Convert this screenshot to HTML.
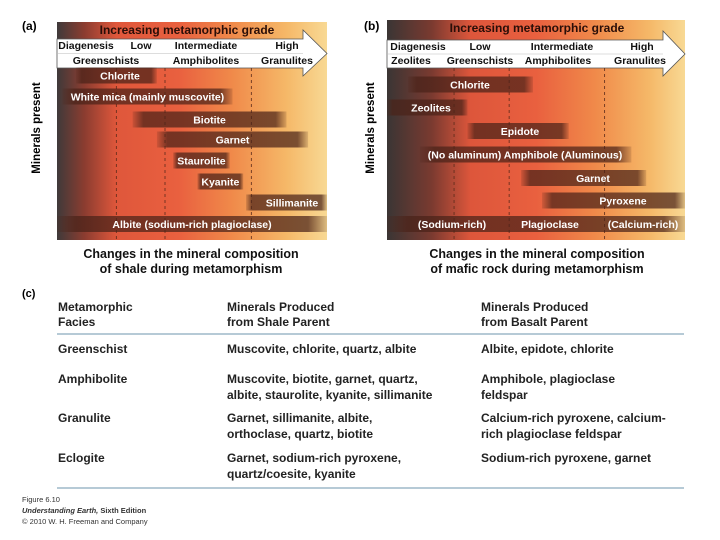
<!DOCTYPE html>
<html><head><meta charset="utf-8"><style>
html,body{margin:0;padding:0;background:#fff;width:720px;height:540px;overflow:hidden}
svg{display:block;font-family:"Liberation Sans",sans-serif}
.b{font-weight:bold}
</style></head><body>
<svg id="fig" width="720" height="540" viewBox="0 0 720 540">
<defs>
<linearGradient id="bgA" x1="0" x2="1" y1="0" y2="0">
<stop offset="0" stop-color="#3f3a3a"/><stop offset="0.1" stop-color="#8a3c30"/><stop offset="0.22" stop-color="#df573b"/><stop offset="0.45" stop-color="#e9603f"/><stop offset="0.65" stop-color="#f08a4a"/><stop offset="0.85" stop-color="#f5b868"/><stop offset="1" stop-color="#f8d994"/>
</linearGradient>
<linearGradient id="bgB" x1="0" x2="1" y1="0" y2="0">
<stop offset="0" stop-color="#3a3534"/><stop offset="0.15" stop-color="#7a3a30"/><stop offset="0.28" stop-color="#dd563b"/><stop offset="0.5" stop-color="#e9603f"/><stop offset="0.7" stop-color="#f08a4a"/><stop offset="0.88" stop-color="#f5b868"/><stop offset="1" stop-color="#f8d994"/>
</linearGradient>
<linearGradient id="barG" x1="0" x2="1" y1="0" y2="0">
<stop offset="0" stop-color="#4a2218" stop-opacity="0.15"/><stop offset="0.07" stop-color="#4a2218" stop-opacity="0.72"/><stop offset="0.93" stop-color="#4a2218" stop-opacity="0.72"/><stop offset="1" stop-color="#4a2218" stop-opacity="0.15"/>
</linearGradient>
</defs>
<g id="panelA"></g>
<g id="panelB"></g>
<text x="22" y="30" class="b" font-size="12">(a)</text>
<text x="364" y="30" class="b" font-size="12">(b)</text>
<text x="40" y="128" class="b" font-size="11.5" text-anchor="middle" transform="rotate(-90 40 128)">Minerals present</text>
<text x="374" y="128" class="b" font-size="11.5" text-anchor="middle" transform="rotate(-90 374 128)">Minerals present</text>
<g class="b" font-size="12.5" text-anchor="middle" fill="#111">
<text x="191" y="258">Changes in the mineral composition</text>
<text x="191" y="273">of shale during metamorphism</text>
<text x="537" y="258">Changes in the mineral composition</text>
<text x="537" y="273">of mafic rock during metamorphism</text>
</g>
<text x="22" y="297" class="b" font-size="11">(c)</text>
<g class="b" font-size="12" fill="#222">
<text x="58" y="311">Metamorphic</text>
<text x="58" y="326">Facies</text>
<text x="227" y="311">Minerals Produced</text>
<text x="227" y="326">from Shale Parent</text>
<text x="481" y="311">Minerals Produced</text>
<text x="481" y="326">from Basalt Parent</text>
<line x1="57" y1="334" x2="684" y2="334" stroke="#9db8c8" stroke-width="1.5"/>
<text x="58" y="353">Greenschist</text>
<text x="227" y="353">Muscovite, chlorite, quartz, albite</text>
<text x="481" y="353">Albite, epidote, chlorite</text>
<text x="58" y="383">Amphibolite</text>
<text x="227" y="383">Muscovite, biotite, garnet, quartz,</text>
<text x="227" y="399">albite, staurolite, kyanite, sillimanite</text>
<text x="481" y="383">Amphibole, plagioclase</text>
<text x="481" y="399">feldspar</text>
<text x="58" y="422">Granulite</text>
<text x="227" y="422">Garnet, sillimanite, albite,</text>
<text x="227" y="438">orthoclase, quartz, biotite</text>
<text x="481" y="422">Calcium-rich pyroxene, calcium-</text>
<text x="481" y="438">rich plagioclase feldspar</text>
<text x="58" y="462">Eclogite</text>
<text x="227" y="462">Garnet, sodium-rich pyroxene,</text>
<text x="227" y="478">quartz/coesite, kyanite</text>
<text x="481" y="462">Sodium-rich pyroxene, garnet</text>
<line x1="57" y1="488" x2="684" y2="488" stroke="#9db8c8" stroke-width="1.5"/>
</g>
<g font-size="7.5" fill="#333">
<text x="22" y="502">Figure 6.10</text>
<text x="22" y="513" font-style="italic" font-weight="bold">Understanding Earth, <tspan font-style="normal">Sixth Edition</tspan></text>
<text x="22" y="524">© 2010 W. H. Freeman and Company</text>
</g>
</svg>
<script>
// Panel A (shale) data: grade scale 0-100
const aMinerals = ["Chlorite","White mica (mainly muscovite)","Biotite","Garnet","Staurolite","Kyanite","Sillimanite","Albite (sodium-rich plagioclase)"];
const aStart = [7, 2, 28, 37, 43, 52, 70, 0];
const aEnd = [37, 65, 85, 93, 64, 69, 100, 100];
const aBoundaries = [22, 40, 72];
// Panel B (mafic) data
const bMinerals = ["Chlorite","Zeolites","Epidote","(No aluminum) Amphibole (Aluminous)","Garnet","Pyroxene","Plagioclase"];
const bStart = [7, 0, 27, 11, 45, 52, 0];
const bEnd = [49, 27, 61, 82, 87, 100, 100];
const bBoundaries = [22.5, 41, 73];
const aGrades1 = ["Diagenesis","Low","Intermediate","High"];
const aGrades2 = ["Greenschists","Amphibolites","Granulites"];
const bGrades1 = ["Diagenesis","Low","Intermediate","High"];
const bGrades2 = ["Zeolites","Greenschists","Amphibolites","Granulites"];

const NS = "http://www.w3.org/2000/svg";
function mk(parent, tag, attrs, text){
  const e = document.createElementNS(NS, tag);
  for (const k in attrs) e.setAttribute(k, attrs[k]);
  if (text !== undefined) e.textContent = text;
  parent.appendChild(e);
  return e;
}
function drawPanel(g, cfg){
  const x = v => cfg.x0 + v / 100 * cfg.w;
  const bg = mk(g, "rect", {x: cfg.x0, y: cfg.top, width: cfg.w, height: cfg.bottom - cfg.top, fill: cfg.bg});
  
  
  const t = mk(g, "text", {x: cfg.titleX, y: cfg.top + 12, "text-anchor": "middle", "font-size": 12, "font-weight": "bold", fill: "#2a0e08"}, "Increasing metamorphic grade");
  
  
  const ab = cfg.arrowBase, by0 = cfg.band0, by1 = cfg.band1;
  const ar = mk(g, "polygon", {points: `${cfg.x0},${by0} ${ab},${by0} ${ab},${by0-9} ${cfg.x0+cfg.w},${(by0+by1)/2} ${ab},${by1+8} ${ab},${by1} ${cfg.x0},${by1}`, fill: "#fff", stroke: "#555", "stroke-width": 0.8});
  
  
  const sep = mk(g, "line", {x1: cfg.x0, x2: ab, y1: (by0+by1)/2, y2: (by0+by1)/2, stroke: "#bbb", "stroke-width": 0.6});
  
  
  cfg.g1.forEach((s, i) => {
    const e = mk(g, "text", {x: cfg.g1x[i], y: by0 + 10, "text-anchor": "middle", "font-size": 10.5, "font-weight": "bold", fill: "#111"}, s);
    
    
  });
  cfg.g2.forEach((s, i) => {
    const e = mk(g, "text", {x: cfg.g2x[i], y: by1 - 4, "text-anchor": "middle", "font-size": 10.5, "font-weight": "bold", fill: "#111"}, s);
    
    
  });
  cfg.bounds.forEach(v => {
    const l = mk(g, "line", {x1: x(v), x2: x(v), y1: by1, y2: cfg.bottom, stroke: "#5a2a1a", "stroke-width": 1, "stroke-dasharray": "3,3", opacity: 0.8});
    
    
  });
  cfg.names.forEach((n, i) => {
    const cy = cfg.rows[i];
    const r = mk(g, "rect", {x: x(cfg.s[i]), y: cy - 8, width: x(cfg.e[i]) - x(cfg.s[i]), height: 16, fill: "url(#barG)"});
    
    
    if (cfg.split && i === cfg.names.length - 1) {
      cfg.split.forEach((p, j) => {
        const tt = mk(g, "text", {x: cfg.splitX[j], y: cy + 4, "text-anchor": "middle", "font-size": 10.5, "font-weight": "bold", fill: "#fff"}, p);
        
        
      });
    } else {
      const tx = cfg.labelX && cfg.labelX[i] != null ? cfg.labelX[i] : (x(cfg.s[i]) + x(cfg.e[i])) / 2;
      const tt = mk(g, "text", {x: tx, y: cy + 4, "text-anchor": "middle", "font-size": 10.5, "font-weight": "bold", fill: "#fff"}, n);
      
      
    }
  });
}
drawPanel(document.getElementById("panelA"), {
  x0: 57, w: 270, top: 22, bottom: 240, bg: "url(#bgA)", titleX: 187,
  band0: 39, band1: 68, arrowBase: 303,
  g1: aGrades1, g1x: [86, 141, 206, 287], g2: aGrades2, g2x: [106, 206, 287],
  bounds: aBoundaries, names: aMinerals, s: aStart, e: aEnd,
  rows: [75.5, 96.5, 119.5, 139.5, 160.5, 181.5, 202.5, 224],
  labelX: [120, null, null, null, null, null, 292, null]
});
drawPanel(document.getElementById("panelB"), {
  x0: 387, w: 298, top: 20, bottom: 240, bg: "url(#bgB)", titleX: 537,
  band0: 40, band1: 68, arrowBase: 663,
  g1: bGrades1, g1x: [418, 480, 562, 642], g2: bGrades2, g2x: [411, 480, 558, 640],
  bounds: bBoundaries, names: bMinerals, s: bStart, e: bEnd,
  rows: [84.5, 107.5, 131, 154.5, 178, 200.5, 224],
  labelX: [470, 431, 520, 525, 593, 623, null],
  split: ["(Sodium-rich)", "Plagioclase", "(Calcium-rich)"], splitX: [452, 550, 643]
});
</script>
</body></html>
